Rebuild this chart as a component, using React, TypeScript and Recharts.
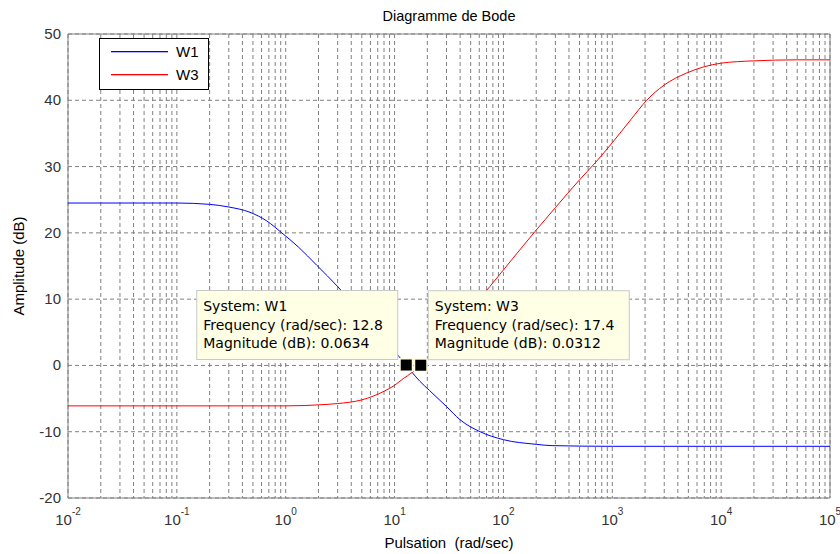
import React from 'react';
import {
  LineChart,
  Line,
  XAxis,
  YAxis,
  CartesianGrid,
  Legend,
  ReferenceDot,
  ReferenceArea,
  Customized,
} from 'recharts';

// ---- Data ----
const w1Freq = [0.01, 0.05, 0.1, 0.2, 0.3, 0.47, 0.67, 0.92, 1.3, 1.93, 3, 5, 7, 10, 12.8, 14.4, 17.1, 21, 30, 40, 61, 100, 200, 280, 1000, 100000];
const w1Mag = [24.5, 24.5, 24.5, 24.3, 23.9, 23.1, 21.8, 20.0, 17.9, 15.1, 11.9, 7.7, 5.0, 2.1, 0.06, -1.0, -2.4, -3.8, -6.2, -8.2, -10.0, -11.2, -11.9, -12.1, -12.2, -12.2];

const w3Freq = [0.01, 0.1, 1, 1.5, 2, 3, 5, 8, 10, 12, 14.4, 17.4, 25, 40, 75, 120, 195, 300, 500, 700, 1000, 1500, 2070, 3000, 4800, 10000, 20000, 50000, 100000];
const w3Mag = [-6.1, -6.1, -6.1, -6.05, -5.95, -5.75, -5.2, -3.9, -3.0, -2.0, -1.1, 0.03, 2.8, 6.6, 11.9, 16.0, 20.2, 23.8, 28.0, 30.6, 33.6, 37.2, 40.0, 42.3, 44.1, 45.6, 45.95, 46.1, 46.1];

const seriesNames = ['W1', 'W3'];
const seriesColors = ['#0000ff', '#ff0000'];

const tipSystems = ['W1', 'W3'];
const tipFreq = [12.8, 17.4];
const tipMag = [0.0634, 0.0312];
const tipSide = ['left', 'right'];

const decadeTicks = [0.01, 0.1, 1, 10, 100, 1000, 10000, 100000];
const minorMultipliers = [2, 3, 4, 5, 6, 7, 8, 9];
const yTicks = [-20, -10, 0, 10, 20, 30, 40, 50];

const xTicks: number[] = [];
decadeTicks.forEach((d, i) => {
  xTicks.push(d);
  if (i < decadeTicks.length - 1) minorMultipliers.forEach((m) => xTicks.push(m * d));
});

const w1Data = w1Freq.map((f, i) => ({ f, v: w1Mag[i] }));
const w3Data = w3Freq.map((f, i) => ({ f, v: w3Mag[i] }));

const FONT = '"Liberation Sans", Arial, Helvetica, sans-serif';
const TIPFONT = '"DejaVu Sans", Verdana, sans-serif';

const XTick = (props: any) => {
  const { x, y, payload } = props;
  const v = payload.value;
  const lg = Math.log10(v);
  const e = Math.round(lg);
  if (Math.abs(lg - e) > 1e-6) return <g />;
  return (
    <text x={x} y={y + 19} textAnchor="middle" fontSize={15} fill="#333" fontFamily={FONT}>
      10
      <tspan dy={-10} fontSize={10}>
        {String(e)}
      </tspan>
    </text>
  );
};

const YTick = (props: any) => {
  const { x, y, payload } = props;
  return (
    <text x={x + 1} y={y + 5} textAnchor="end" fontSize={15} fill="#333" fontFamily={FONT}>
      {payload.value}
    </text>
  );
};

const makeTip = (idx: number) => (props: any) => {
  const { cx, cy } = props;
  if (cx == null || cy == null) return <g />;
  const w = 201;
  const h = 69;
  const bx = tipSide[idx] === 'left' ? cx - 9 - w : cx + 7;
  const by = cy - 75;
  return (
    <g>
      <rect x={bx + 0.5} y={by + 0.5} width={w} height={h} fill="#ffffe6" stroke="#c8c8c8" />
      <text fontFamily={TIPFONT} fontSize={14} fill="#000">
        <tspan x={bx + 7} y={by + 21}>{`System: ${tipSystems[idx]}`}</tspan>
        <tspan x={bx + 7} y={by + 39.5}>{`Frequency (rad/sec): ${tipFreq[idx]}`}</tspan>
        <tspan x={bx + 7} y={by + 58}>{`Magnitude (dB): ${tipMag[idx]}`}</tspan>
      </text>
      <rect x={cx - 7} y={cy - 7} width={14} height={14} fill="#fffbe0" />
      <rect x={cx - 5.5} y={cy - 5.5} width={11} height={11} fill="#000" />
    </g>
  );
};

const LegendBox = () => (
  <svg width={111} height={53} style={{ display: 'block' }}>
    <rect x={0.5} y={0.5} width={109} height={51} fill="#fff" stroke="#000" />
    {seriesNames.map((n, i) => (
      <g key={n}>
        <rect x={12} y={13 + i * 23} width={57} height={1.3} fill={seriesColors[i]} />
        <text x={77} y={19 + i * 23} fontSize={15} fontFamily={FONT} fill="#000">
          {n}
        </text>
      </g>
    ))}
  </svg>
);

const Title = () => (
  <g>
    <text x={449} y={21} textAnchor="middle" fontSize={14.5} fontFamily={FONT} fill="#000">
      Diagramme de Bode
    </text>
    <text x={449} y={548} textAnchor="middle" fontSize={15} fontFamily={FONT} fill="#000" style={{ whiteSpace: 'pre' }}>
      {'Pulsation  (rad/sec)'}
    </text>
    <text
      x={0}
      y={0}
      transform="translate(23.5 266) rotate(-90)"
      textAnchor="middle"
      fontSize={15}
      fontFamily={FONT}
      fill="#000"
    >
      Amplitude (dB)
    </text>
  </g>
);

export default function App() {
  return (
    <div style={{ position: 'absolute', left: 0, top: 0, width: 840, height: 554, background: '#fff' }}>
      <LineChart width={840} height={554} margin={{ top: 34, right: 10, bottom: 0, left: 0 }}>
        <CartesianGrid stroke="#808080" strokeDasharray="4 3" strokeWidth={1} />
        <XAxis
          dataKey="f"
          type="number"
          scale="log"
          domain={[0.01, 100000]}
          ticks={xTicks}
          interval={0}
          allowDataOverflow
          tickLine={false}
          axisLine={false}
          height={56}
          tick={<XTick />}
        />
        <YAxis
          type="number"
          domain={[-20, 50]}
          ticks={yTicks}
          interval={0}
          allowDataOverflow
          tickLine={false}
          axisLine={false}
          width={68}
          tick={<YTick />}
        />
        <ReferenceArea x1={0.01} x2={100000} y1={-20} y2={50} fill="none" stroke="#808080" strokeWidth={1} />
        <Line data={w1Data} dataKey="v" name={seriesNames[0]} stroke={seriesColors[0]} strokeWidth={1} dot={false} activeDot={false} type="monotone" isAnimationActive={false} />
        <Line data={w3Data} dataKey="v" name={seriesNames[1]} stroke={seriesColors[1]} strokeWidth={1} dot={false} activeDot={false} type="monotone" isAnimationActive={false} />
        {tipFreq.map((f, i) => (
          <ReferenceDot key={i} x={f} y={tipMag[i]} r={6} shape={makeTip(i)} />
        ))}
        <Legend
          layout="vertical"
          align="center"
          verticalAlign="middle"
          wrapperStyle={{ left: 99, top: 38, width: 111, height: 53 }}
          content={() => <LegendBox />}
        />
        <Customized component={Title} />
      </LineChart>
    </div>
  );
}
